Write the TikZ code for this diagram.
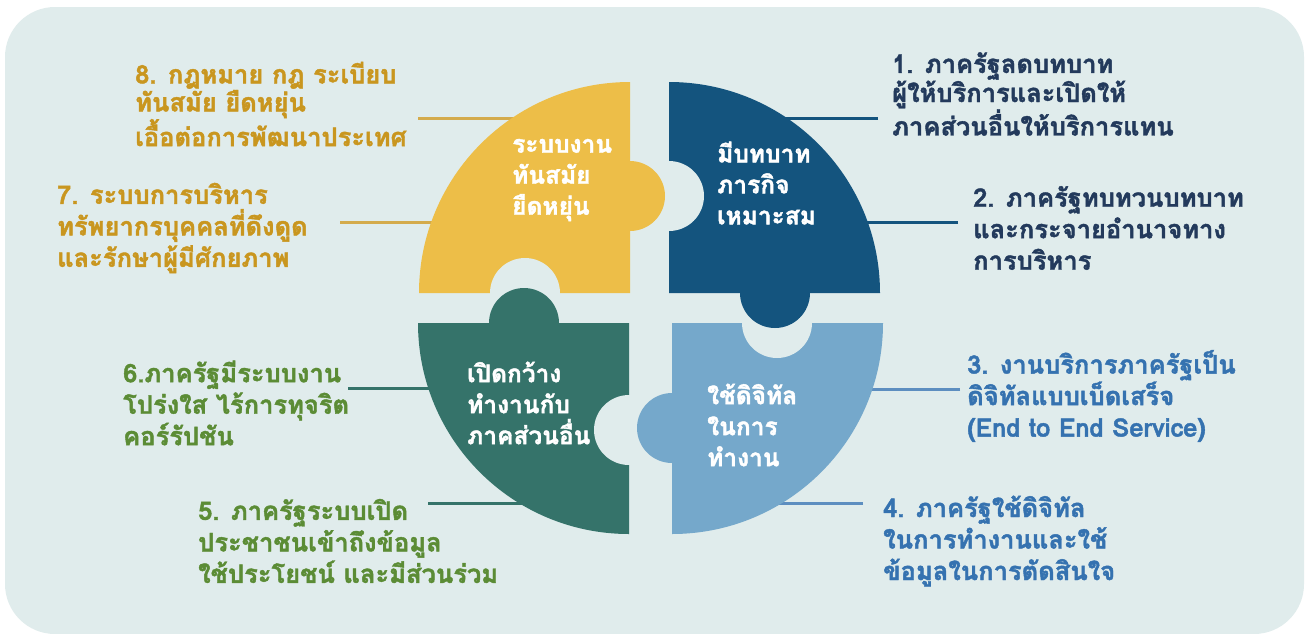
\documentclass[tikz,border=0pt]{standalone}
\usepackage{fontspec}
\newfontfamily\thaifont[Script=Thai, BoldFeatures={FakeBold=1.6}]{Loma}
\definecolor{bgc}{HTML}{E0ECEC}
\definecolor{yelc}{HTML}{EDBE48}
\definecolor{navc}{HTML}{14547E}
\definecolor{grnc}{HTML}{35736A}
\definecolor{skyc}{HTML}{75A8CB}
\definecolor{goldtxt}{HTML}{C9961F}
\definecolor{navtxt}{HTML}{233A5C}
\definecolor{grntxt}{HTML}{5B8C35}
\definecolor{skytxt}{HTML}{3572B0}

\tikzset{
  lbl/.style={anchor=west, align=left, inner sep=0pt,
    font=\thaifont\bfseries\fontsize{25.5}{31.5}\selectfont},
  tightlbl/.style={lbl, font=\thaifont\bfseries\fontsize{25.5}{28}\selectfont},
  inlbl/.style={lbl, text=white, font=\thaifont\bfseries\fontsize{24.5}{31}\selectfont},
  lnk/.style={line width=3pt}
}

\begin{document}
\begin{tikzpicture}[x=1pt,y=1pt]
\useasboundingbox (0,0) rectangle (1309,-633);
\fill[white] (0,0) rectangle (1309,-633);
\fill[bgc, rounded corners=50pt] (5,-7) rectangle (1304,-634);

% inner corners of the four pieces
\coordinate (yel) at (630,-293);
\coordinate (nav) at (669,-293);
\coordinate (grn) at (629,-323);
\coordinate (sky) at (672,-323);

% free ends of the connectors
\coordinate (p8) at (418,-118);
\coordinate (p7) at (340,-222);
\coordinate (p1) at (878,-118);
\coordinate (p2) at (958,-222);
\coordinate (p6) at (348,-388);
\coordinate (p5) at (428,-503);
\coordinate (p3) at (960,-389);
\coordinate (p4) at (863,-503);

\draw[lnk, goldtxt!80] (p8) -- (p8 -| yel);
\draw[lnk, goldtxt!80] (p7) -- (p7 -| yel);
\draw[lnk, navc] (p1) -- (p1 -| nav);
\draw[lnk, navc] (p2) -- (p2 -| nav);
\draw[lnk, grnc] (p6) -- (p6 -| grn);
\draw[lnk, grnc] (p5) -- (p5 -| grn);
\draw[lnk, skytxt!80] (p3) -- (p3 -| sky);
\draw[lnk, skytxt!80] (p4) -- (p4 -| sky);

% quarter pieces
\fill[yelc] (yel) -- ++(-211,0) arc[start angle=180, end angle=90, radius=211] -- cycle;
\fill[navc] (nav) -- ++(211,0) arc[start angle=0, end angle=90, radius=211] -- cycle;
\fill[grnc] (grn) -- ++(-211,0) arc[start angle=180, end angle=270, radius=211] -- cycle;
\fill[skyc] (sky) -- ++(211,0) arc[start angle=0, end angle=-90, radius=211] -- cycle;
% sockets
\fill[bgc] (669,-196) circle[radius=35];
\fill[bgc] (525,-293) circle[radius=35];
\fill[bgc] (629,-430) circle[radius=35];
\fill[bgc] (777,-323) circle[radius=35];
% tabs
\fill[yelc] (630,-196) circle[radius=35];
\fill[navc] (775,-293) circle[radius=35];
\fill[grnc] (524,-323) circle[radius=35];
\fill[skyc] (672,-428) circle[radius=35];

% texts in the pieces
\node[inlbl] (yeltxt) at (512,-180) {ระบบงาน\\ทันสมัย\\ยืดหยุ่น};
\node[inlbl] (navtxt) at (717,-183) {มีบทบาท\\ภารกิจ\\เหมาะสม};
\node[inlbl] (grntxt) at (467,-403) {เปิดกว้าง\\ทำงานกับ\\ภาคส่วนอื่น};
\node[inlbl] (skytxt) at (707,-425) {ใช้ดิจิทัล\\ในการ\\ทำงาน};

% outer labels
\node[tightlbl, text=goldtxt] (t8) at (135,-104) {8. กฎหมาย กฎ ระเบียบ\\ทันสมัย ยืดหยุ่น\\เอื้อต่อการพัฒนาประเทศ};
\node[lbl, text=goldtxt] (t7) at (57,-228) {7. ระบบการบริหาร\\ทรัพยากรบุคคลที่ดึงดูด\\และรักษาผู้มีศักยภาพ};
\node[tightlbl, text=navtxt] (t1) at (892,-94) {1. ภาครัฐลดบทบาท\\ผู้ให้บริการและเปิดให้\\ภาคส่วนอื่นให้บริการแทน};
\node[lbl, text=navtxt] (t2) at (973,-228) {2. ภาครัฐทบทวนบทบาท\\และกระจายอำนาจทาง\\การบริหาร};
\node[lbl, text=skytxt] (t3) at (967,-396) {3. งานบริการภาครัฐเป็น\\ดิจิทัลแบบเบ็ดเสร็จ\\(End to End Service)};
\node[lbl, text=skytxt] (t4) at (883,-541) {4. ภาครัฐใช้ดิจิทัล\\ในการทำงานและใช้\\ข้อมูลในการตัดสินใจ};
\node[lbl, text=grntxt] (t6) at (123,-403) {6.ภาครัฐมีระบบงาน\\โปร่งใส ไร้การทุจริต\\คอร์รัปชัน};
\node[lbl, text=grntxt] (t5) at (198,-541) {5. ภาครัฐระบบเปิด\\ประชาชนเข้าถึงข้อมูล\\ใช้ประโยชน์ และมีส่วนร่วม};
\end{tikzpicture}
\end{document}
